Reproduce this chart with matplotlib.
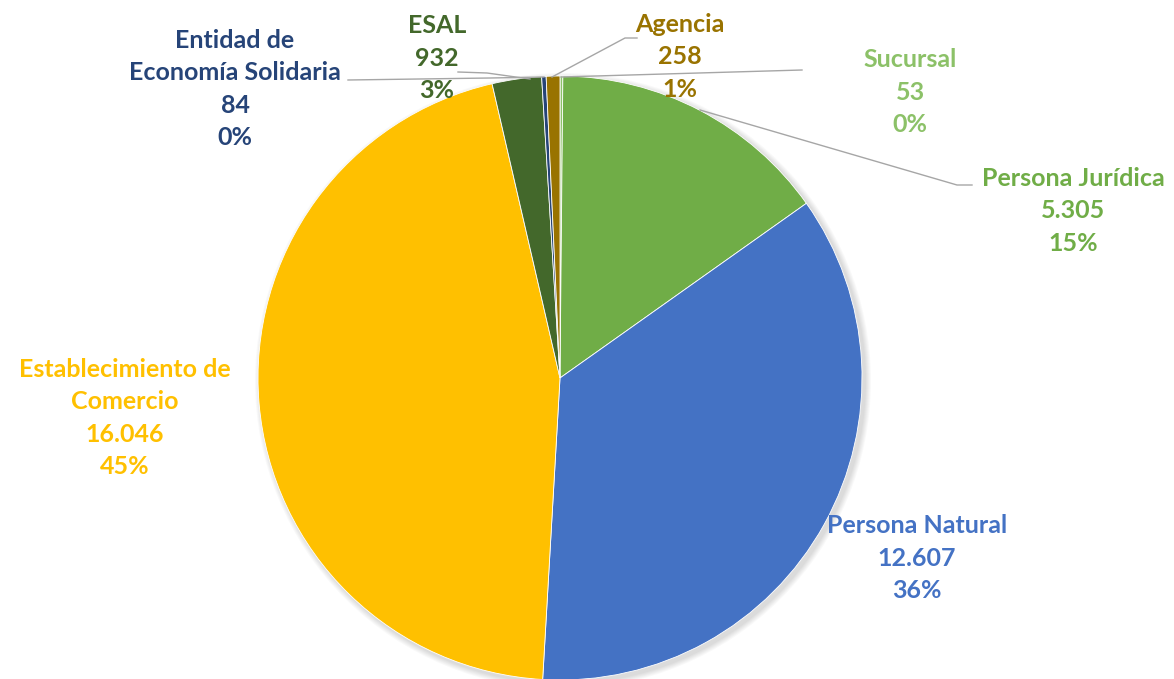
import matplotlib.pyplot as plt
from matplotlib.patches import Circle

plt.rcParams['font.family'] = ['Lato', 'DejaVu Sans']

# data (Excel order, clockwise from 12 o'clock)
categories = ['Sucursal', 'Persona Jurídica', 'Persona Natural',
              'Establecimiento de\nComercio', 'ESAL',
              'Entidad de\nEconomía Solidaria', 'Agencia']
values = [53, 5305, 12607, 16046, 932, 84, 258]
colors = ['#8CC168', '#70AD47', '#4472C4', '#FFC000', '#43682B', '#264478', '#997300']

W, H = 1174, 679
fig = plt.figure(figsize=(W / 100, H / 100), dpi=100)
ax = fig.add_axes([0, 0, 1, 1])


def px(x, y):
    # pixel coords (origin top-left) -> data coords
    return x, H - y


cx, cy = px(560, 378)
r = 302

# soft shadow like Excel
for i in range(6):
    ax.add_patch(Circle((cx + 3, cy - 3), r + 1 + i, color='#000000', alpha=0.025, lw=0, zorder=0))

ax.pie(values, colors=colors, startangle=90, counterclock=False,
       center=(cx, cy), radius=r,
       wedgeprops=dict(edgecolor='white', linewidth=0.6))

# label block centres and leader lines, in pixel coords
label_pos = {
    'Sucursal': (910, 92),
    'Persona Jurídica': (1073, 211),
    'Persona Natural': (917, 558),
    'Establecimiento de\nComercio': (125, 418),
    'ESAL': (437, 58),
    'Entidad de\nEconomía Solidaria': (235, 89),
    'Agencia': (680, 57),
}
leaders = {
    'Sucursal': [(561, 77), (802, 70)],
    'Persona Jurídica': [(700, 110), (957, 185), (972, 185)],
    'ESAL': [(458, 72), (487, 73), (530, 79)],
    'Entidad de\nEconomía Solidaria': [(348, 80), (490, 78), (544, 77)],
    'Agencia': [(637, 38), (625, 38), (552, 77)],
}

total = sum(values)
for cat, v, c in zip(categories, values, colors):
    num = f'{v:,}'.replace(',', '.')
    pct = f'{round(100 * v / total)}%'
    x, y = px(*label_pos[cat])
    ax.text(x, y, f'{cat}\n{num}\n{pct}', ha='center', va='center',
            color=c, fontsize=18, fontweight='bold', linespacing=1.48)
    if cat in leaders:
        pts = [px(a, b) for a, b in leaders[cat]]
        ax.plot([p[0] for p in pts], [p[1] for p in pts], color='#A6A6A6', lw=1, zorder=3)

ax.set_xlim(0, W)
ax.set_ylim(0, H)
ax.set_aspect('equal')
ax.axis('off')

fig.savefig('out.png', dpi=100, facecolor='white')
